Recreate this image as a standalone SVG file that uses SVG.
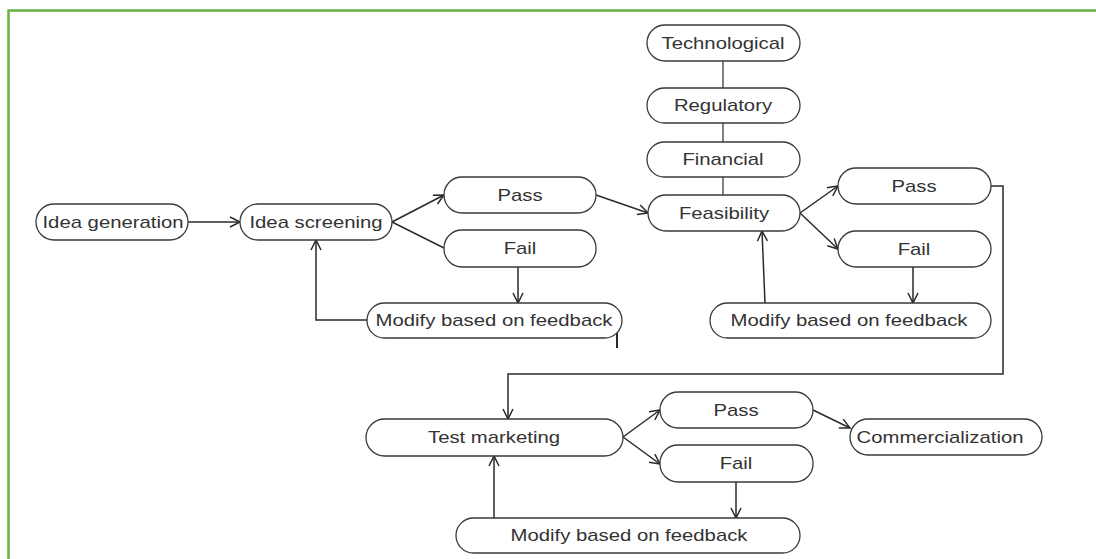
<svg xmlns="http://www.w3.org/2000/svg" width="1096" height="559" viewBox="0 0 1096 559">
<style>
.n{fill:#fff;stroke:#3a3a3a;stroke-width:1.3}
.t{font-family:"Liberation Sans",Arial,sans-serif;font-size:16px;fill:#333;text-anchor:middle}
.c{fill:none;stroke:#2a2a2a;stroke-width:1.5}
.g{fill:none;stroke:#808080;stroke-width:2}
</style>
<defs>
<marker id="a" markerUnits="userSpaceOnUse" markerWidth="14" markerHeight="14" refX="11" refY="6" orient="auto">
<path d="M1,1 L11,6 L1,11" fill="none" stroke="#2a2a2a" stroke-width="1.5"/>
</marker>
</defs>
<rect width="1096" height="559" fill="#fff"/>
<path d="M8.5,559 V10.5 H1096" fill="none" stroke="#6aaf45" stroke-width="2.5"/>
<g id="connectors">
<line class="g" x1="723" y1="61" x2="723" y2="88"/>
<line class="g" x1="723" y1="123" x2="723" y2="142"/>
<line class="g" x1="723" y1="177" x2="723" y2="195"/>
<line class="c" x1="188" y1="222" x2="240" y2="222" marker-end="url(#a)"/>
<line class="c" x1="392" y1="222" x2="444" y2="195" marker-end="url(#a)"/>
<line class="c" x1="392" y1="222" x2="444" y2="248"/>
<line class="c" x1="596" y1="195" x2="648" y2="213" marker-end="url(#a)"/>
<line class="c" x1="518" y1="267" x2="518" y2="303" marker-end="url(#a)"/>
<path class="c" d="M367,320 H316 V240" marker-end="url(#a)"/>
<line x1="617" y1="333" x2="617" y2="348" stroke="#2a2a2a" stroke-width="2"/>
<line class="c" x1="800" y1="213" x2="838" y2="186" marker-end="url(#a)"/>
<line class="c" x1="800" y1="213" x2="838" y2="249" marker-end="url(#a)"/>
<line class="c" x1="913" y1="267" x2="913" y2="303" marker-end="url(#a)"/>
<line class="c" x1="765" y1="303" x2="762" y2="231" marker-end="url(#a)"/>
<path class="c" d="M991,186 H1003 V374 H508 V419" marker-end="url(#a)"/>
<line class="c" x1="623" y1="437" x2="660" y2="410" marker-end="url(#a)"/>
<line class="c" x1="623" y1="437" x2="660" y2="464" marker-end="url(#a)"/>
<line class="c" x1="813" y1="410" x2="850" y2="428" marker-end="url(#a)"/>
<line class="c" x1="736" y1="482" x2="736" y2="518" marker-end="url(#a)"/>
<line class="c" x1="494" y1="518" x2="494" y2="456" marker-end="url(#a)"/>
</g>
<g id="idea-generation"><rect class="n" x="36" y="204" width="152" height="36" rx="18"/><text class="t" transform="translate(113,228) scale(1.27,1)">Idea generation</text></g>
<g id="idea-screening"><rect class="n" x="240" y="204" width="152" height="36" rx="18"/><text class="t" transform="translate(316,228) scale(1.27,1)">Idea screening</text></g>
<g id="pass1"><rect class="n" x="444" y="177" width="152" height="36" rx="18"/><text class="t" transform="translate(520,201) scale(1.27,1)">Pass</text></g>
<g id="fail1"><rect class="n" x="444" y="230" width="152" height="37" rx="18"/><text class="t" transform="translate(520,254) scale(1.27,1)">Fail</text></g>
<g id="modify1"><rect class="n" x="367" y="303" width="255" height="35" rx="17.5"/><text class="t" transform="translate(494,326) scale(1.27,1)">Modify based on feedback</text></g>
<g id="technological"><rect class="n" x="647" y="25" width="153" height="36" rx="18"/><text class="t" transform="translate(723,49) scale(1.27,1)">Technological</text></g>
<g id="regulatory"><rect class="n" x="647" y="88" width="153" height="35" rx="17.5"/><text class="t" transform="translate(723,111) scale(1.27,1)">Regulatory</text></g>
<g id="financial"><rect class="n" x="647" y="142" width="153" height="35" rx="17.5"/><text class="t" transform="translate(723,165) scale(1.27,1)">Financial</text></g>
<g id="feasibility"><rect class="n" x="648" y="195" width="152" height="36" rx="18"/><text class="t" transform="translate(724,219) scale(1.27,1)">Feasibility</text></g>
<g id="pass2"><rect class="n" x="838" y="168" width="153" height="36" rx="18"/><text class="t" transform="translate(914,192) scale(1.27,1)">Pass</text></g>
<g id="fail2"><rect class="n" x="838" y="231" width="153" height="36" rx="18"/><text class="t" transform="translate(914,255) scale(1.27,1)">Fail</text></g>
<g id="modify2"><rect class="n" x="710" y="303" width="281" height="35" rx="17.5"/><text class="t" transform="translate(849,326) scale(1.27,1)">Modify based on feedback</text></g>
<g id="test-marketing"><rect class="n" x="366" y="419" width="257" height="37" rx="18.5"/><text class="t" transform="translate(494,443) scale(1.27,1)">Test marketing</text></g>
<g id="pass3"><rect class="n" x="660" y="392" width="153" height="36" rx="18"/><text class="t" transform="translate(736,416) scale(1.27,1)">Pass</text></g>
<g id="fail3"><rect class="n" x="660" y="445" width="153" height="37" rx="18"/><text class="t" transform="translate(736,469) scale(1.27,1)">Fail</text></g>
<g id="commercialization"><rect class="n" x="850" y="419" width="192" height="36" rx="18"/><text class="t" transform="translate(940,443) scale(1.27,1)">Commercialization</text></g>
<g id="modify3"><rect class="n" x="456" y="518" width="344" height="35" rx="17.5"/><text class="t" transform="translate(629,541) scale(1.27,1)">Modify based on feedback</text></g>
</svg>
